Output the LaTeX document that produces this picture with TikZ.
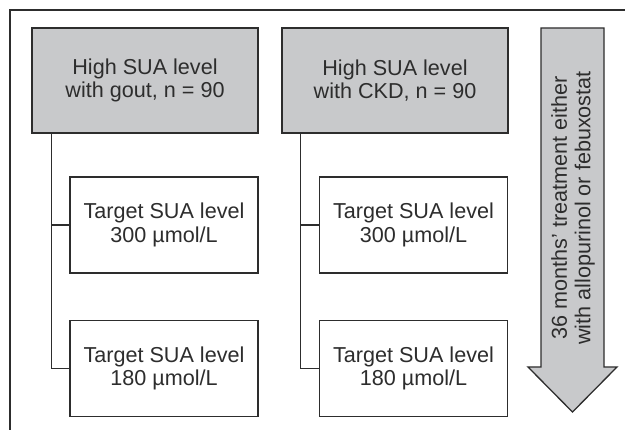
\documentclass[tikz,border=0pt]{standalone}
\usepackage{fontspec}
\setmainfont{Liberation Sans}
\usetikzlibrary{calc}
\definecolor{boxgray}{RGB}{200,201,203}
\definecolor{ink}{RGB}{45,45,45}
\tikzset{
  every node/.style={font=\fontsize{21.6}{23.5}\selectfont, text=ink},
  headbox/.style={draw=ink, line width=1.3pt, fill=boxgray, align=center,
    minimum width=226pt, minimum height=105pt, inner sep=0pt},
  targetbox/.style={draw=ink, line width=1.3pt, fill=white, align=center,
    minimum width=188pt, minimum height=96pt, inner sep=0pt},
  link/.style={draw=ink, line width=1.1pt},
  framebox/.style={draw=ink, line width=1.3pt},
  bigarrow/.style={draw=ink, line width=1.3pt, fill=boxgray, line join=miter}
}
\begin{document}
\begin{tikzpicture}[x=1pt, y=1pt]
  \useasboundingbox (0,0) rectangle (625,-430);

  % outer frame (only top and left edges fall inside the page)
  \draw[framebox] (630,-10) -- (10,-10) -- (10,-440);

  % group headers
  \node[headbox] (gout) at (145,-80.5) {High SUA level\\with gout, n = 90};
  \node[headbox] (ckd)  at (395,-80.5) {High SUA level\\with CKD, n = 90};

  % target boxes
  \node[targetbox] (g300) at (164,-225)   {Target SUA level\\300 µmol/L};
  \node[targetbox] (g180) at (164,-368.5) {Target SUA level\\180 µmol/L};
  \node[targetbox] (c300) at (413.5,-225)   {Target SUA level\\300 µmol/L};
  \node[targetbox] (c180) at (413.5,-368.5) {Target SUA level\\180 µmol/L};

  % tree connectors
  \coordinate (gspine) at ($(gout.south west)+(20,0)$);
  \coordinate (cspine) at ($(ckd.south west)+(19,0)$);
  \draw[link] (gspine) |- (g180.west);
  \draw[link] (g300.west) -- (g300.west -| gspine);
  \draw[link] (cspine) |- (c180.west);
  \draw[link] (c300.west) -- (c300.west -| cspine);

  % treatment arrow
  \coordinate (atl) at (541,-28);
  \coordinate (atr) at (604,-28);
  \coordinate (atip) at (572.5,-412);
  \draw[bigarrow] (atl) -- (atr) -- (604,-367) -- (617,-367) -- (atip)
    -- (528,-367) -- (541,-367) -- cycle;
  \node[rotate=90, align=center, inner sep=0pt] (treat) at (573,-208)
    {36 months’ treatment either\\with allopurinol or febuxostat};
\end{tikzpicture}
\end{document}
